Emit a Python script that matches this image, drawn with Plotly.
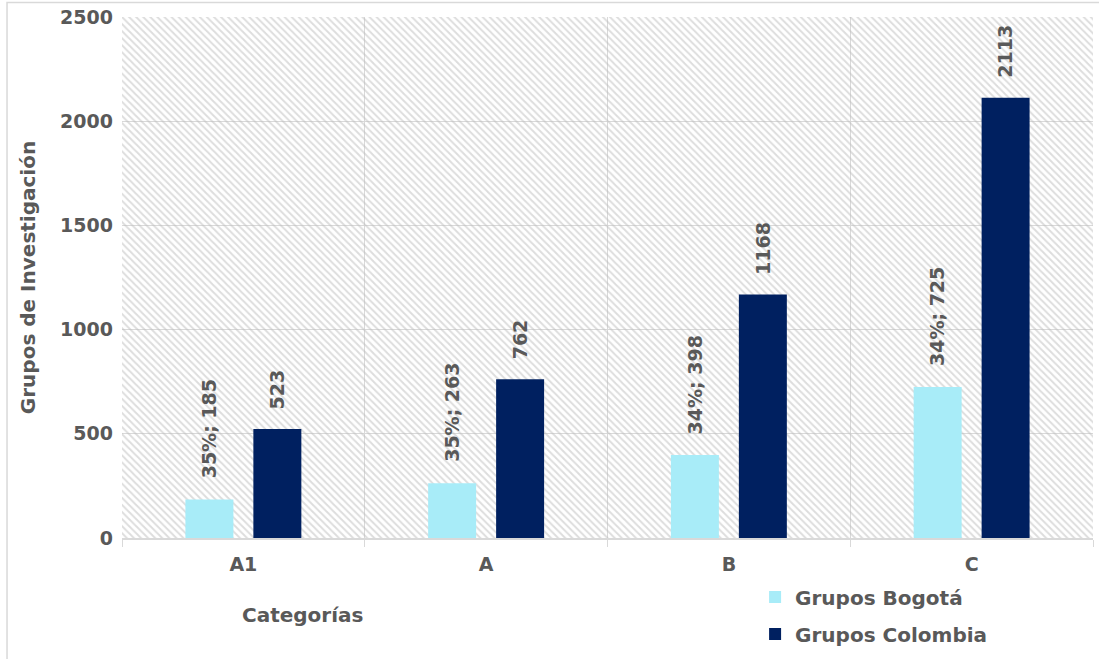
import plotly.graph_objects as go

# Grupos de investigación por categoría
categorias = ["A1", "A", "B", "C"]
grupos_bogota = [185, 263, 398, 725]
grupos_colombia = [523, 762, 1168, 2113]
y_ticks = [0, 500, 1000, 1500, 2000, 2500]

FONT = "DejaVu Sans"
GRIS = "#595959"
LINEA = "#d9d9d9"
C_BOG = "#A8ECF8"
C_COL = "#002060"


def negrita(t):
    return f"<b>{t}</b>"


fig = go.Figure()

# Fondo rayado del área de trazado (ejes auxiliares 0-1)
fig.add_trace(go.Scatter(
    x=[0, 1, 1, 0, 0], y=[0, 0, 1, 1, 0],
    xaxis="x", yaxis="y",
    mode="lines", line=dict(width=0), fill="toself",
    fillcolor="rgba(0,0,0,0)",
    fillpattern=dict(shape="\\", size=5, solidity=0.4,
                     fgcolor="#bcbcbc", bgcolor="rgba(0,0,0,0)"),
    hoverinfo="skip", showlegend=False,
))

fig.add_trace(go.Bar(
    x=categorias, y=grupos_bogota, name=negrita("Grupos Bogotá"),
    marker=dict(color=C_BOG, line=dict(width=0)),
    xaxis="x2", yaxis="y2", legendgroup="bog",
))
fig.add_trace(go.Bar(
    x=categorias, y=grupos_colombia, name=negrita("Grupos Colombia"),
    marker=dict(color=C_COL, line=dict(width=0)),
    xaxis="x2", yaxis="y2", legendgroup="col",
))

# Etiquetas de valor verticales sobre cada barra
annotations = []
for cat, b, c in zip(categorias, grupos_bogota, grupos_colombia):
    pct = round(b / c * 100)
    annotations.append(dict(
        x=cat, y=b, xref="x2", yref="y2", text=negrita(f"{pct}%; {b}"),
        textangle=-90, showarrow=False, xanchor="center", yanchor="bottom",
        xshift=-34, yshift=19, font=dict(family=FONT, size=19, color=GRIS),
    ))
    annotations.append(dict(
        x=cat, y=c, xref="x2", yref="y2", text=negrita(c),
        textangle=-90, showarrow=False, xanchor="center", yanchor="bottom",
        xshift=34, yshift=18, font=dict(family=FONT, size=19, color=GRIS),
    ))

annotations.append(dict(
    x=0.1864, y=-0.148, xref="paper", yref="paper", text=negrita("Categorías"),
    showarrow=False, xanchor="center", yanchor="middle",
    font=dict(family=FONT, size=20, color=GRIS),
))

fig.update_layout(
    width=1099, height=659,
    margin=dict(l=122, r=6, t=17, b=121, autoexpand=False),
    paper_bgcolor="white", plot_bgcolor="white",
    font=dict(family=FONT, color=GRIS),
    barmode="group", bargap=0.44, bargroupgap=0.294,
    xaxis=dict(range=[0, 1], visible=False, fixedrange=True),
    yaxis=dict(range=[0, 1], visible=False, fixedrange=True),
    xaxis2=dict(
        overlaying="x", anchor="y2", type="category",
        tickson="boundaries", showgrid=True, gridcolor=LINEA, gridwidth=1,
        ticks="outside", ticklen=7, tickcolor=LINEA, ticklabelstandoff=8,
        showline=True, linecolor=LINEA, linewidth=1.5,
        tickmode="array", tickvals=categorias,
        ticktext=[negrita(c) for c in categorias],
        tickfont=dict(family=FONT, size=19, color=GRIS),
    ),
    yaxis2=dict(
        overlaying="y", anchor="x2", range=[0, 2500],
        tickmode="array", tickvals=y_ticks,
        ticktext=[negrita(v) for v in y_ticks],
        showgrid=True, gridcolor=LINEA, gridwidth=1, zeroline=False,
        ticks="", ticklabelstandoff=8,
        tickfont=dict(family=FONT, size=19, color=GRIS),
        title=dict(text=negrita("Grupos de Investigación"), standoff=19,
                   font=dict(family=FONT, size=20, color=GRIS)),
    ),
    legend=dict(
        x=0.652, y=-0.0758, xanchor="left", yanchor="top",
        font=dict(family=FONT, size=20, color=GRIS),
        traceorder="grouped", tracegroupgap=8, bgcolor="rgba(0,0,0,0)",
    ),
    annotations=annotations,
    shapes=[dict(
        type="rect", xref="paper", yref="paper",
        x0=-0.1184, x1=1.2, y0=-0.4, y1=1.028,
        line=dict(color=LINEA, width=1.5), fillcolor="rgba(0,0,0,0)",
        layer="below",
    )],
)

fig.write_html("out.html")
